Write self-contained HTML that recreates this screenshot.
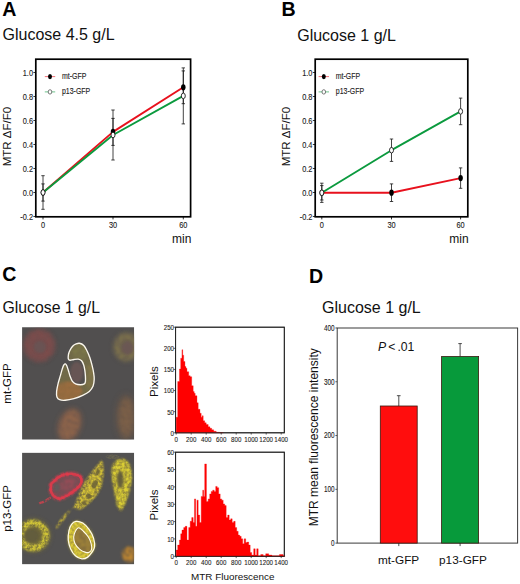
<!DOCTYPE html>
<html><head><meta charset="utf-8"><title>Figure</title>
<style>html,body{margin:0;padding:0;background:#fff}svg{display:block}</style></head><body>
<svg width="520" height="584" viewBox="0 0 520 584" font-family='"Liberation Sans", Arial, Helvetica, sans-serif'>
<rect width="520" height="584" fill="#fff"/>
<text transform="translate(2.30,16.40)" font-size="19.6" text-anchor="start" font-weight="bold" font-style="normal" fill="#000" >A</text>
<text transform="translate(2.50,40.00)" font-size="16.0" text-anchor="start" font-weight="normal" font-style="normal" fill="#111" >Glucose 4.5 g/L</text>
<text transform="translate(281.40,16.40)" font-size="19.6" text-anchor="start" font-weight="bold" font-style="normal" fill="#000" >B</text>
<text transform="translate(297.20,40.70)" font-size="16.0" text-anchor="start" font-weight="normal" font-style="normal" fill="#111" >Glucose 1 g/L</text>
<text transform="translate(2.20,280.80)" font-size="19.6" text-anchor="start" font-weight="bold" font-style="normal" fill="#000" >C</text>
<text transform="translate(2.50,312.60)" font-size="15.8" text-anchor="start" font-weight="normal" font-style="normal" fill="#111" >Glucose 1 g/L</text>
<text transform="translate(308.90,283.20)" font-size="19.6" text-anchor="start" font-weight="bold" font-style="normal" fill="#000" >D</text>
<text transform="translate(322.00,312.60)" font-size="16.0" text-anchor="start" font-weight="normal" font-style="normal" fill="#111" >Glucose 1 g/L</text>
<rect x="35.8" y="59.2" width="154.8" height="157.60000000000002" fill="#fff" stroke="#000" stroke-width="1.7"/>
<line x1="33.4" y1="216.50" x2="35.8" y2="216.50" stroke="#000" stroke-width="0.8"/>
<text transform="translate(33.00,219.60) scale(0.84,1)" font-size="8.8" text-anchor="end" font-weight="normal" font-style="normal" fill="#222"  stroke="#222" stroke-width="0.12">-0.2</text>
<line x1="33.4" y1="192.50" x2="35.8" y2="192.50" stroke="#000" stroke-width="0.8"/>
<text transform="translate(33.00,195.60) scale(0.84,1)" font-size="8.8" text-anchor="end" font-weight="normal" font-style="normal" fill="#222"  stroke="#222" stroke-width="0.12">0.0</text>
<line x1="33.4" y1="168.50" x2="35.8" y2="168.50" stroke="#000" stroke-width="0.8"/>
<text transform="translate(33.00,171.60) scale(0.84,1)" font-size="8.8" text-anchor="end" font-weight="normal" font-style="normal" fill="#222"  stroke="#222" stroke-width="0.12">0.2</text>
<line x1="33.4" y1="144.50" x2="35.8" y2="144.50" stroke="#000" stroke-width="0.8"/>
<text transform="translate(33.00,147.60) scale(0.84,1)" font-size="8.8" text-anchor="end" font-weight="normal" font-style="normal" fill="#222"  stroke="#222" stroke-width="0.12">0.4</text>
<line x1="33.4" y1="120.50" x2="35.8" y2="120.50" stroke="#000" stroke-width="0.8"/>
<text transform="translate(33.00,123.60) scale(0.84,1)" font-size="8.8" text-anchor="end" font-weight="normal" font-style="normal" fill="#222"  stroke="#222" stroke-width="0.12">0.6</text>
<line x1="33.4" y1="96.50" x2="35.8" y2="96.50" stroke="#000" stroke-width="0.8"/>
<text transform="translate(33.00,99.60) scale(0.84,1)" font-size="8.8" text-anchor="end" font-weight="normal" font-style="normal" fill="#222"  stroke="#222" stroke-width="0.12">0.8</text>
<line x1="33.4" y1="72.50" x2="35.8" y2="72.50" stroke="#000" stroke-width="0.8"/>
<text transform="translate(33.00,75.60) scale(0.84,1)" font-size="8.8" text-anchor="end" font-weight="normal" font-style="normal" fill="#222"  stroke="#222" stroke-width="0.12">1.0</text>
<line x1="43" y1="216.8" x2="43" y2="219.4" stroke="#000" stroke-width="0.8"/>
<text transform="translate(43.00,228.30) scale(0.84,1)" font-size="8.8" text-anchor="middle" font-weight="normal" font-style="normal" fill="#222"  stroke="#222" stroke-width="0.12">0</text>
<line x1="113" y1="216.8" x2="113" y2="219.4" stroke="#000" stroke-width="0.8"/>
<text transform="translate(113.00,228.30) scale(0.84,1)" font-size="8.8" text-anchor="middle" font-weight="normal" font-style="normal" fill="#222"  stroke="#222" stroke-width="0.12">30</text>
<line x1="183.3" y1="216.8" x2="183.3" y2="219.4" stroke="#000" stroke-width="0.8"/>
<text transform="translate(183.30,228.30) scale(0.84,1)" font-size="8.8" text-anchor="middle" font-weight="normal" font-style="normal" fill="#222"  stroke="#222" stroke-width="0.12">60</text>
<text transform="translate(10.80,136.60) rotate(-90)" font-size="11.5" text-anchor="middle" font-weight="normal" font-style="normal" fill="#111" >MTR ΔF/F0</text>
<text transform="translate(191.40,242.80)" font-size="12.0" text-anchor="end" font-weight="normal" font-style="normal" fill="#111" >min</text>
<polyline points="43,192.5 113,131.9 183.3,87.3" fill="none" stroke="#e8111d" stroke-width="1.9" stroke-linejoin="round"/>
<polyline points="43,192.5 113,135.0 183.3,95.9" fill="none" stroke="#0b9a3e" stroke-width="1.9" stroke-linejoin="round"/>
<path d="M43 183.9V201.1M41.3 183.9H44.7M41.3 201.1H44.7" stroke="#141414" stroke-width="0.8" fill="none"/>
<path d="M43 175.7V209.3M41.3 175.7H44.7M41.3 209.3H44.7" stroke="#141414" stroke-width="0.8" fill="none"/>
<path d="M113 118.4V145.4M111.3 118.4H114.7M111.3 145.4H114.7" stroke="#141414" stroke-width="0.8" fill="none"/>
<path d="M113 110.0V160.0M111.3 110.0H114.7M111.3 160.0H114.7" stroke="#141414" stroke-width="0.8" fill="none"/>
<path d="M183.3 70.9V103.7M181.60000000000002 70.9H185.0M181.60000000000002 103.7H185.0" stroke="#141414" stroke-width="0.8" fill="none"/>
<path d="M183.3 67.9V123.9M181.60000000000002 67.9H185.0M181.60000000000002 123.9H185.0" stroke="#141414" stroke-width="0.8" fill="none"/>
<ellipse cx="43" cy="192.5" rx="2.25" ry="3.1" fill="#000"/>
<ellipse cx="113" cy="131.9" rx="2.25" ry="3.1" fill="#000"/>
<ellipse cx="183.3" cy="87.3" rx="2.25" ry="3.1" fill="#000"/>
<ellipse cx="43" cy="192.5" rx="2.0" ry="2.8" fill="#fff" stroke="#111" stroke-width="0.85"/>
<ellipse cx="113" cy="135.0" rx="2.0" ry="2.8" fill="#fff" stroke="#111" stroke-width="0.85"/>
<ellipse cx="183.3" cy="95.9" rx="2.0" ry="2.8" fill="#fff" stroke="#111" stroke-width="0.85"/>
<line x1="44.8" y1="76.6" x2="55.2" y2="76.6" stroke="#e8111d" stroke-width="0.6"/>
<ellipse cx="50" cy="76.6" rx="2.0" ry="2.6" fill="#000"/>
<line x1="44.8" y1="91.9" x2="55.2" y2="91.9" stroke="#0b9a3e" stroke-width="0.6"/>
<ellipse cx="50" cy="91.9" rx="1.8" ry="2.2" fill="#fff" stroke="#444" stroke-width="0.7"/>
<text transform="translate(62.00,79.00) scale(0.85,1)" font-size="8.2" text-anchor="start" font-weight="normal" font-style="normal" fill="#222"  stroke="#222" stroke-width="0.12">mt-GFP</text>
<text transform="translate(62.00,94.30) scale(0.85,1)" font-size="8.2" text-anchor="start" font-weight="normal" font-style="normal" fill="#222"  stroke="#222" stroke-width="0.12">p13-GFP</text>
<rect x="315.2" y="59.2" width="152.60000000000002" height="157.60000000000002" fill="#fff" stroke="#000" stroke-width="1.7"/>
<line x1="312.8" y1="216.50" x2="315.2" y2="216.50" stroke="#000" stroke-width="0.8"/>
<text transform="translate(312.40,219.60) scale(0.84,1)" font-size="8.8" text-anchor="end" font-weight="normal" font-style="normal" fill="#222"  stroke="#222" stroke-width="0.12">-0.2</text>
<line x1="312.8" y1="192.50" x2="315.2" y2="192.50" stroke="#000" stroke-width="0.8"/>
<text transform="translate(312.40,195.60) scale(0.84,1)" font-size="8.8" text-anchor="end" font-weight="normal" font-style="normal" fill="#222"  stroke="#222" stroke-width="0.12">0.0</text>
<line x1="312.8" y1="168.50" x2="315.2" y2="168.50" stroke="#000" stroke-width="0.8"/>
<text transform="translate(312.40,171.60) scale(0.84,1)" font-size="8.8" text-anchor="end" font-weight="normal" font-style="normal" fill="#222"  stroke="#222" stroke-width="0.12">0.2</text>
<line x1="312.8" y1="144.50" x2="315.2" y2="144.50" stroke="#000" stroke-width="0.8"/>
<text transform="translate(312.40,147.60) scale(0.84,1)" font-size="8.8" text-anchor="end" font-weight="normal" font-style="normal" fill="#222"  stroke="#222" stroke-width="0.12">0.4</text>
<line x1="312.8" y1="120.50" x2="315.2" y2="120.50" stroke="#000" stroke-width="0.8"/>
<text transform="translate(312.40,123.60) scale(0.84,1)" font-size="8.8" text-anchor="end" font-weight="normal" font-style="normal" fill="#222"  stroke="#222" stroke-width="0.12">0.6</text>
<line x1="312.8" y1="96.50" x2="315.2" y2="96.50" stroke="#000" stroke-width="0.8"/>
<text transform="translate(312.40,99.60) scale(0.84,1)" font-size="8.8" text-anchor="end" font-weight="normal" font-style="normal" fill="#222"  stroke="#222" stroke-width="0.12">0.8</text>
<line x1="312.8" y1="72.50" x2="315.2" y2="72.50" stroke="#000" stroke-width="0.8"/>
<text transform="translate(312.40,75.60) scale(0.84,1)" font-size="8.8" text-anchor="end" font-weight="normal" font-style="normal" fill="#222"  stroke="#222" stroke-width="0.12">1.0</text>
<line x1="321.8" y1="216.8" x2="321.8" y2="219.4" stroke="#000" stroke-width="0.8"/>
<text transform="translate(321.80,228.30) scale(0.84,1)" font-size="8.8" text-anchor="middle" font-weight="normal" font-style="normal" fill="#222"  stroke="#222" stroke-width="0.12">0</text>
<line x1="391.5" y1="216.8" x2="391.5" y2="219.4" stroke="#000" stroke-width="0.8"/>
<text transform="translate(391.50,228.30) scale(0.84,1)" font-size="8.8" text-anchor="middle" font-weight="normal" font-style="normal" fill="#222"  stroke="#222" stroke-width="0.12">30</text>
<line x1="460.6" y1="216.8" x2="460.6" y2="219.4" stroke="#000" stroke-width="0.8"/>
<text transform="translate(460.60,228.30) scale(0.84,1)" font-size="8.8" text-anchor="middle" font-weight="normal" font-style="normal" fill="#222"  stroke="#222" stroke-width="0.12">60</text>
<text transform="translate(290.30,136.60) rotate(-90)" font-size="11.5" text-anchor="middle" font-weight="normal" font-style="normal" fill="#111" >MTR ΔF/F0</text>
<text transform="translate(468.60,242.80)" font-size="12.0" text-anchor="end" font-weight="normal" font-style="normal" fill="#111" >min</text>
<polyline points="321.8,192.8 391.5,192.7 460.6,178.1" fill="none" stroke="#e8111d" stroke-width="1.9" stroke-linejoin="round"/>
<polyline points="321.8,192.8 391.5,150.2 460.6,111.4" fill="none" stroke="#0b9a3e" stroke-width="1.9" stroke-linejoin="round"/>
<path d="M321.8 185.6V200.0M320.1 185.6H323.5M320.1 200.0H323.5" stroke="#141414" stroke-width="0.8" fill="none"/>
<path d="M321.8 183.2V202.4M320.1 183.2H323.5M320.1 202.4H323.5" stroke="#141414" stroke-width="0.8" fill="none"/>
<path d="M391.5 183.9V201.5M389.8 183.9H393.2M389.8 201.5H393.2" stroke="#141414" stroke-width="0.8" fill="none"/>
<path d="M391.5 139.0V161.4M389.8 139.0H393.2M389.8 161.4H393.2" stroke="#141414" stroke-width="0.8" fill="none"/>
<path d="M460.6 167.9V188.3M458.90000000000003 167.9H462.3M458.90000000000003 188.3H462.3" stroke="#141414" stroke-width="0.8" fill="none"/>
<path d="M460.6 98.1V124.7M458.90000000000003 98.1H462.3M458.90000000000003 124.7H462.3" stroke="#141414" stroke-width="0.8" fill="none"/>
<ellipse cx="321.8" cy="192.8" rx="2.25" ry="3.1" fill="#000"/>
<ellipse cx="391.5" cy="192.7" rx="2.25" ry="3.1" fill="#000"/>
<ellipse cx="460.6" cy="178.1" rx="2.25" ry="3.1" fill="#000"/>
<ellipse cx="321.8" cy="192.8" rx="2.0" ry="2.8" fill="#fff" stroke="#111" stroke-width="0.85"/>
<ellipse cx="391.5" cy="150.2" rx="2.0" ry="2.8" fill="#fff" stroke="#111" stroke-width="0.85"/>
<ellipse cx="460.6" cy="111.4" rx="2.0" ry="2.8" fill="#fff" stroke="#111" stroke-width="0.85"/>
<line x1="318.6" y1="76.6" x2="329.0" y2="76.6" stroke="#e8111d" stroke-width="0.6"/>
<ellipse cx="323.8" cy="76.6" rx="2.0" ry="2.6" fill="#000"/>
<line x1="318.6" y1="91.9" x2="329.0" y2="91.9" stroke="#0b9a3e" stroke-width="0.6"/>
<ellipse cx="323.8" cy="91.9" rx="1.8" ry="2.2" fill="#fff" stroke="#444" stroke-width="0.7"/>
<text transform="translate(335.80,79.00) scale(0.85,1)" font-size="8.2" text-anchor="start" font-weight="normal" font-style="normal" fill="#222"  stroke="#222" stroke-width="0.12">mt-GFP</text>
<text transform="translate(335.80,94.30) scale(0.85,1)" font-size="8.2" text-anchor="start" font-weight="normal" font-style="normal" fill="#222"  stroke="#222" stroke-width="0.12">p13-GFP</text>
<rect x="175.6" y="327.2" width="108.70000000000002" height="105.60000000000002" fill="#fff" stroke="#222" stroke-width="0.9"/>
<path d="M176.20 432.80V417.29H177.70V381.50H179.45V368.99H180.70V358.23H181.95V349.72H182.70V355.23H183.70V361.48H184.95V366.49H185.95V368.24H186.95V371.74H188.70V375.75H190.20V376.75H191.70V385.76H193.20V391.51H194.20V393.26H195.20V395.76H196.95V402.77H198.20V409.28H199.95V413.28H201.20V417.29H202.20V415.78H203.20V420.79H204.70V422.79H206.20V424.54H208.20V426.79H209.95V428.30H211.70V429.80H213.70V431.30H216.20V432.30H219.70V432.62H223.20V432.80Z" fill="#ff0000" stroke="#f00000" stroke-width="0.3"/>
<rect x="175.6" y="327.2" width="108.70000000000002" height="105.60000000000002" fill="none" stroke="#222" stroke-width="0.9"/>
<line x1="173.6" y1="432.80" x2="175.6" y2="432.80" stroke="#222" stroke-width="0.7"/>
<text transform="translate(174.00,435.70) scale(0.76,1)" font-size="8.1" text-anchor="end" font-weight="normal" font-style="normal" fill="#222"  stroke="#222" stroke-width="0.12">0</text>
<line x1="173.6" y1="411.68" x2="175.6" y2="411.68" stroke="#222" stroke-width="0.7"/>
<text transform="translate(174.00,414.58) scale(0.76,1)" font-size="8.1" text-anchor="end" font-weight="normal" font-style="normal" fill="#222"  stroke="#222" stroke-width="0.12">50</text>
<line x1="173.6" y1="390.56" x2="175.6" y2="390.56" stroke="#222" stroke-width="0.7"/>
<text transform="translate(174.00,393.46) scale(0.76,1)" font-size="8.1" text-anchor="end" font-weight="normal" font-style="normal" fill="#222"  stroke="#222" stroke-width="0.12">100</text>
<line x1="173.6" y1="369.44" x2="175.6" y2="369.44" stroke="#222" stroke-width="0.7"/>
<text transform="translate(174.00,372.34) scale(0.76,1)" font-size="8.1" text-anchor="end" font-weight="normal" font-style="normal" fill="#222"  stroke="#222" stroke-width="0.12">150</text>
<line x1="173.6" y1="348.32" x2="175.6" y2="348.32" stroke="#222" stroke-width="0.7"/>
<text transform="translate(174.00,351.22) scale(0.76,1)" font-size="8.1" text-anchor="end" font-weight="normal" font-style="normal" fill="#222"  stroke="#222" stroke-width="0.12">200</text>
<line x1="173.6" y1="327.20" x2="175.6" y2="327.20" stroke="#222" stroke-width="0.7"/>
<text transform="translate(174.00,330.10) scale(0.76,1)" font-size="8.1" text-anchor="end" font-weight="normal" font-style="normal" fill="#222"  stroke="#222" stroke-width="0.12">250</text>
<line x1="176.20" y1="432.8" x2="176.20" y2="434.6" stroke="#222" stroke-width="0.7"/>
<text transform="translate(176.20,441.70) scale(0.76,1)" font-size="8.1" text-anchor="middle" font-weight="normal" font-style="normal" fill="#222"  stroke="#222" stroke-width="0.12">0</text>
<line x1="191.20" y1="432.8" x2="191.20" y2="434.6" stroke="#222" stroke-width="0.7"/>
<text transform="translate(191.20,441.70) scale(0.76,1)" font-size="8.1" text-anchor="middle" font-weight="normal" font-style="normal" fill="#222"  stroke="#222" stroke-width="0.12">200</text>
<line x1="206.20" y1="432.8" x2="206.20" y2="434.6" stroke="#222" stroke-width="0.7"/>
<text transform="translate(206.20,441.70) scale(0.76,1)" font-size="8.1" text-anchor="middle" font-weight="normal" font-style="normal" fill="#222"  stroke="#222" stroke-width="0.12">400</text>
<line x1="221.20" y1="432.8" x2="221.20" y2="434.6" stroke="#222" stroke-width="0.7"/>
<text transform="translate(221.20,441.70) scale(0.76,1)" font-size="8.1" text-anchor="middle" font-weight="normal" font-style="normal" fill="#222"  stroke="#222" stroke-width="0.12">600</text>
<line x1="236.20" y1="432.8" x2="236.20" y2="434.6" stroke="#222" stroke-width="0.7"/>
<text transform="translate(236.20,441.70) scale(0.76,1)" font-size="8.1" text-anchor="middle" font-weight="normal" font-style="normal" fill="#222"  stroke="#222" stroke-width="0.12">800</text>
<line x1="251.20" y1="432.8" x2="251.20" y2="434.6" stroke="#222" stroke-width="0.7"/>
<text transform="translate(251.20,441.70) scale(0.76,1)" font-size="8.1" text-anchor="middle" font-weight="normal" font-style="normal" fill="#222"  stroke="#222" stroke-width="0.12">1000</text>
<line x1="266.20" y1="432.8" x2="266.20" y2="434.6" stroke="#222" stroke-width="0.7"/>
<text transform="translate(266.20,441.70) scale(0.76,1)" font-size="8.1" text-anchor="middle" font-weight="normal" font-style="normal" fill="#222"  stroke="#222" stroke-width="0.12">1200</text>
<line x1="281.20" y1="432.8" x2="281.20" y2="434.6" stroke="#222" stroke-width="0.7"/>
<text transform="translate(281.20,441.70) scale(0.76,1)" font-size="8.1" text-anchor="middle" font-weight="normal" font-style="normal" fill="#222"  stroke="#222" stroke-width="0.12">1400</text>
<rect x="175.6" y="452.2" width="108.70000000000002" height="104.09999999999997" fill="#fff" stroke="#222" stroke-width="0.9"/>
<path d="M176.20 556.30V550.06H177.70V545.07H179.45V540.07H180.70V533.83H181.95V530.09H183.70V527.59H185.20V526.34H186.95V540.07H188.70V527.59H190.20V521.35H191.70V517.61H193.20V522.60H194.45V498.88H195.70V526.34H196.95V500.13H198.20V515.11H199.70V522.60H201.20V496.39H202.70V490.15H203.70V496.39H204.70V463.93H206.45V501.38H208.20V498.88H209.70V493.89H211.20V491.39H212.70V490.15H214.20V491.39H215.70V486.40H217.20V487.65H218.70V493.89H220.20V498.88H221.70V500.13H223.20V503.88H224.70V505.62H226.20V517.61H227.70V515.11H229.20V520.10H230.70V518.85H232.20V522.60H233.70V521.35H235.20V527.59H236.70V531.34H238.20V535.08H239.70V536.33H241.20V538.83H242.70V543.82H244.20V538.83H245.70V542.57H247.20V542.07H248.70V545.07H250.20V552.56H251.70V555.05H253.70V548.81H255.20V555.05H256.70V548.81H258.20V555.80H260.70V554.55H263.20V555.80H265.70V553.80H268.70V555.05H271.95V555.80H279.45V554.55H283.20V555.80H284.95V556.30Z" fill="#ff0000" stroke="#f00000" stroke-width="0.3"/>
<rect x="175.6" y="452.2" width="108.70000000000002" height="104.09999999999997" fill="none" stroke="#222" stroke-width="0.9"/>
<line x1="173.6" y1="556.30" x2="175.6" y2="556.30" stroke="#222" stroke-width="0.7"/>
<text transform="translate(174.00,559.20) scale(0.76,1)" font-size="8.1" text-anchor="end" font-weight="normal" font-style="normal" fill="#222"  stroke="#222" stroke-width="0.12">0</text>
<line x1="173.6" y1="538.95" x2="175.6" y2="538.95" stroke="#222" stroke-width="0.7"/>
<text transform="translate(174.00,541.85) scale(0.76,1)" font-size="8.1" text-anchor="end" font-weight="normal" font-style="normal" fill="#222"  stroke="#222" stroke-width="0.12">10</text>
<line x1="173.6" y1="521.60" x2="175.6" y2="521.60" stroke="#222" stroke-width="0.7"/>
<text transform="translate(174.00,524.50) scale(0.76,1)" font-size="8.1" text-anchor="end" font-weight="normal" font-style="normal" fill="#222"  stroke="#222" stroke-width="0.12">20</text>
<line x1="173.6" y1="504.25" x2="175.6" y2="504.25" stroke="#222" stroke-width="0.7"/>
<text transform="translate(174.00,507.15) scale(0.76,1)" font-size="8.1" text-anchor="end" font-weight="normal" font-style="normal" fill="#222"  stroke="#222" stroke-width="0.12">30</text>
<line x1="173.6" y1="486.90" x2="175.6" y2="486.90" stroke="#222" stroke-width="0.7"/>
<text transform="translate(174.00,489.80) scale(0.76,1)" font-size="8.1" text-anchor="end" font-weight="normal" font-style="normal" fill="#222"  stroke="#222" stroke-width="0.12">40</text>
<line x1="173.6" y1="469.55" x2="175.6" y2="469.55" stroke="#222" stroke-width="0.7"/>
<text transform="translate(174.00,472.45) scale(0.76,1)" font-size="8.1" text-anchor="end" font-weight="normal" font-style="normal" fill="#222"  stroke="#222" stroke-width="0.12">50</text>
<line x1="173.6" y1="452.20" x2="175.6" y2="452.20" stroke="#222" stroke-width="0.7"/>
<text transform="translate(174.00,455.10) scale(0.76,1)" font-size="8.1" text-anchor="end" font-weight="normal" font-style="normal" fill="#222"  stroke="#222" stroke-width="0.12">60</text>
<line x1="176.20" y1="556.3" x2="176.20" y2="558.0999999999999" stroke="#222" stroke-width="0.7"/>
<text transform="translate(176.20,565.20) scale(0.76,1)" font-size="8.1" text-anchor="middle" font-weight="normal" font-style="normal" fill="#222"  stroke="#222" stroke-width="0.12">0</text>
<line x1="191.20" y1="556.3" x2="191.20" y2="558.0999999999999" stroke="#222" stroke-width="0.7"/>
<text transform="translate(191.20,565.20) scale(0.76,1)" font-size="8.1" text-anchor="middle" font-weight="normal" font-style="normal" fill="#222"  stroke="#222" stroke-width="0.12">200</text>
<line x1="206.20" y1="556.3" x2="206.20" y2="558.0999999999999" stroke="#222" stroke-width="0.7"/>
<text transform="translate(206.20,565.20) scale(0.76,1)" font-size="8.1" text-anchor="middle" font-weight="normal" font-style="normal" fill="#222"  stroke="#222" stroke-width="0.12">400</text>
<line x1="221.20" y1="556.3" x2="221.20" y2="558.0999999999999" stroke="#222" stroke-width="0.7"/>
<text transform="translate(221.20,565.20) scale(0.76,1)" font-size="8.1" text-anchor="middle" font-weight="normal" font-style="normal" fill="#222"  stroke="#222" stroke-width="0.12">600</text>
<line x1="236.20" y1="556.3" x2="236.20" y2="558.0999999999999" stroke="#222" stroke-width="0.7"/>
<text transform="translate(236.20,565.20) scale(0.76,1)" font-size="8.1" text-anchor="middle" font-weight="normal" font-style="normal" fill="#222"  stroke="#222" stroke-width="0.12">800</text>
<line x1="251.20" y1="556.3" x2="251.20" y2="558.0999999999999" stroke="#222" stroke-width="0.7"/>
<text transform="translate(251.20,565.20) scale(0.76,1)" font-size="8.1" text-anchor="middle" font-weight="normal" font-style="normal" fill="#222"  stroke="#222" stroke-width="0.12">1000</text>
<line x1="266.20" y1="556.3" x2="266.20" y2="558.0999999999999" stroke="#222" stroke-width="0.7"/>
<text transform="translate(266.20,565.20) scale(0.76,1)" font-size="8.1" text-anchor="middle" font-weight="normal" font-style="normal" fill="#222"  stroke="#222" stroke-width="0.12">1200</text>
<line x1="281.20" y1="556.3" x2="281.20" y2="558.0999999999999" stroke="#222" stroke-width="0.7"/>
<text transform="translate(281.20,565.20) scale(0.76,1)" font-size="8.1" text-anchor="middle" font-weight="normal" font-style="normal" fill="#222"  stroke="#222" stroke-width="0.12">1400</text>
<text transform="translate(232.75,579.80)" font-size="9.9" text-anchor="middle" font-weight="normal" font-style="normal" fill="#111" >MTR Fluorescence</text>
<text transform="translate(158.10,381.60) rotate(-90)" font-size="11.6" text-anchor="middle" font-weight="normal" font-style="normal" fill="#111" >Pixels</text>
<text transform="translate(158.10,505.00) rotate(-90)" font-size="11.6" text-anchor="middle" font-weight="normal" font-style="normal" fill="#111" >Pixels</text>
<text transform="translate(10.70,383.50) rotate(-90)" font-size="11.5" text-anchor="middle" font-weight="normal" font-style="normal" fill="#111" >mt-GFP</text>
<text transform="translate(10.70,508.50) rotate(-90)" font-size="11.5" text-anchor="middle" font-weight="normal" font-style="normal" fill="#111" >p13-GFP</text>
<defs>
<filter id="gr" x="-25%" y="-25%" width="150%" height="150%" color-interpolation-filters="sRGB">
<feTurbulence type="fractalNoise" baseFrequency="0.36" numOctaves="3" seed="3" result="n"/>
<feColorMatrix in="n" type="matrix" values="0 0 0 0 0  0 0 0 0 0  0 0 0 0 0  2.6 0 0 0 -0.72" result="a"/>
<feGaussianBlur in="SourceGraphic" stdDeviation="0.8" result="b"/>
<feComposite in="b" in2="a" operator="in" result="c"/>
<feGaussianBlur in="c" stdDeviation="0.55"/>
</filter>
<filter id="grs" x="-25%" y="-25%" width="150%" height="150%" color-interpolation-filters="sRGB">
<feTurbulence type="fractalNoise" baseFrequency="0.5" numOctaves="2" seed="8" result="n"/>
<feColorMatrix in="n" type="matrix" values="0 0 0 0 0  0 0 0 0 0  0 0 0 0 0  3.0 0 0 0 -0.8" result="a"/>
<feGaussianBlur in="SourceGraphic" stdDeviation="0.5" result="b"/>
<feComposite in="b" in2="a" operator="in" result="c"/>
<feGaussianBlur in="c" stdDeviation="0.4"/>
</filter>
<filter id="gr2" x="-25%" y="-25%" width="150%" height="150%" color-interpolation-filters="sRGB">
<feTurbulence type="fractalNoise" baseFrequency="0.3" numOctaves="2" seed="11" result="n"/>
<feColorMatrix in="n" type="matrix" values="0 0 0 0 0  0 0 0 0 0  0 0 0 0 0  2.4 0 0 0 -0.62" result="a"/>
<feGaussianBlur in="SourceGraphic" stdDeviation="1.5" result="b"/>
<feComposite in="b" in2="a" operator="in" result="c"/>
<feGaussianBlur in="c" stdDeviation="0.8"/>
</filter>
<filter id="gr3" x="-25%" y="-25%" width="150%" height="150%" color-interpolation-filters="sRGB">
<feTurbulence type="fractalNoise" baseFrequency="0.25" numOctaves="2" seed="5" result="n"/>
<feColorMatrix in="n" type="matrix" values="0 0 0 0 0  0 0 0 0 0  0 0 0 0 0  2.2 0 0 0 -0.5" result="a"/>
<feGaussianBlur in="SourceGraphic" stdDeviation="2.2" result="b"/>
<feComposite in="b" in2="a" operator="in" result="c"/>
<feGaussianBlur in="c" stdDeviation="1.0"/>
</filter>
<filter id="b05" x="-30%" y="-30%" width="160%" height="160%"><feGaussianBlur stdDeviation="0.6"/></filter>
<filter id="b1" x="-30%" y="-30%" width="160%" height="160%"><feGaussianBlur stdDeviation="1.2"/></filter>
<filter id="b2" x="-30%" y="-30%" width="160%" height="160%"><feGaussianBlur stdDeviation="2.4"/></filter>
<filter id="b3" x="-40%" y="-40%" width="180%" height="180%"><feGaussianBlur stdDeviation="3.6"/></filter>
<clipPath id="c1"><rect x="22.1" y="327.3" width="112" height="112.3"/></clipPath>
<clipPath id="c2"><rect x="22.1" y="452.8" width="112" height="111.4"/></clipPath>
<clipPath id="cell1"><path d="M75.56 344.16C76.57 343.80 78.03 343.07 79.40 343.29C80.77 343.51 82.50 344.20 83.78 345.48C85.06 346.76 86.06 348.95 87.07 350.96C88.07 352.97 88.99 355.16 89.81 357.53C90.63 359.91 91.36 362.65 92.00 365.21C92.64 367.76 93.28 370.50 93.64 372.88C94.01 375.25 94.28 377.26 94.19 379.45C94.10 381.64 93.92 384.02 93.10 386.03C92.27 388.04 91.00 389.95 89.26 391.51C87.53 393.06 85.24 394.16 82.68 395.34C80.13 396.53 76.84 397.81 73.92 398.63C71.00 399.45 67.53 400.09 65.15 400.27C62.78 400.46 61.04 400.27 59.67 399.73C58.30 399.18 57.44 398.36 56.93 396.99C56.42 395.62 56.42 393.70 56.60 391.51C56.79 389.32 57.42 386.39 58.03 383.84C58.63 381.28 59.49 378.72 60.22 376.16C60.95 373.61 61.77 370.41 62.41 368.49C63.05 366.58 63.56 365.42 64.05 364.66C64.55 363.89 64.91 363.71 65.37 363.89C65.83 364.07 66.28 364.62 66.79 365.75C67.31 366.89 67.89 368.95 68.44 370.68C68.99 372.42 69.44 374.43 70.08 376.16C70.72 377.90 71.36 379.82 72.27 381.10C73.19 382.37 74.19 383.23 75.56 383.84C76.93 384.44 79.03 384.71 80.49 384.71C81.95 384.71 83.51 384.35 84.33 383.84C85.15 383.32 85.24 382.92 85.42 381.64C85.61 380.37 85.52 377.99 85.42 376.16C85.33 374.34 85.15 372.51 84.88 370.68C84.60 368.86 84.33 366.85 83.78 365.21C83.23 363.56 82.50 361.83 81.59 360.82C80.68 359.82 79.58 359.40 78.30 359.18C77.02 358.96 75.29 359.32 73.92 359.51C72.55 359.69 71.00 360.33 70.08 360.27C69.17 360.22 68.75 359.82 68.44 359.18C68.13 358.54 68.13 357.53 68.22 356.44C68.31 355.34 68.49 353.97 68.99 352.60C69.48 351.23 70.45 349.41 71.18 348.22C71.91 347.03 72.64 346.16 73.37 345.48C74.10 344.80 74.56 344.53 75.56 344.16Z"/></clipPath>
</defs>
<g clip-path="url(#c1)">
<rect x="21.8" y="327" width="112.6" height="113" fill="#514f4f"/>
<ellipse cx="39.3" cy="345.5" rx="15.5" ry="16" fill="#764d4d" filter="url(#b2)" opacity="0.95"/>
<ellipse cx="39.3" cy="345.5" rx="12" ry="12.5" fill="none" stroke="#874c4a" stroke-width="6" filter="url(#gr3)" opacity="0.6"/>
<ellipse cx="39.8" cy="347.0" rx="6" ry="6" fill="#675555" filter="url(#b1)" opacity="0.8"/>
<ellipse cx="126.5" cy="347.0" rx="13" ry="14.5" fill="#6e6450" filter="url(#b2)" opacity="0.95"/>
<ellipse cx="126.5" cy="347.0" rx="10" ry="11" fill="none" stroke="#887c4a" stroke-width="5" filter="url(#gr2)" opacity="0.75"/>
<ellipse cx="127.5" cy="348.0" rx="5.5" ry="6.5" fill="#6b5654" filter="url(#b1)" opacity="0.85"/>
<ellipse cx="126.2" cy="417.5" rx="9" ry="22" fill="#725a46" filter="url(#b3)" opacity="0.95"/>
<ellipse cx="126.2" cy="417.5" rx="7" ry="19" fill="#86664a" filter="url(#gr3)" opacity="0.65"/>
<ellipse cx="69.6" cy="425.0" rx="11.5" ry="17.5" transform="rotate(20 69.6 425.0)" fill="#7c5c4c" filter="url(#b2)" opacity="0.95"/>
<ellipse cx="69.6" cy="425.0" rx="9" ry="15" transform="rotate(20 69.6 425.0)" fill="#96684a" filter="url(#gr2)" opacity="0.8"/>
<g clip-path="url(#cell1)">
<path d="M75.56 344.16C76.57 343.80 78.03 343.07 79.40 343.29C80.77 343.51 82.50 344.20 83.78 345.48C85.06 346.76 86.06 348.95 87.07 350.96C88.07 352.97 88.99 355.16 89.81 357.53C90.63 359.91 91.36 362.65 92.00 365.21C92.64 367.76 93.28 370.50 93.64 372.88C94.01 375.25 94.28 377.26 94.19 379.45C94.10 381.64 93.92 384.02 93.10 386.03C92.27 388.04 91.00 389.95 89.26 391.51C87.53 393.06 85.24 394.16 82.68 395.34C80.13 396.53 76.84 397.81 73.92 398.63C71.00 399.45 67.53 400.09 65.15 400.27C62.78 400.46 61.04 400.27 59.67 399.73C58.30 399.18 57.44 398.36 56.93 396.99C56.42 395.62 56.42 393.70 56.60 391.51C56.79 389.32 57.42 386.39 58.03 383.84C58.63 381.28 59.49 378.72 60.22 376.16C60.95 373.61 61.77 370.41 62.41 368.49C63.05 366.58 63.56 365.42 64.05 364.66C64.55 363.89 64.91 363.71 65.37 363.89C65.83 364.07 66.28 364.62 66.79 365.75C67.31 366.89 67.89 368.95 68.44 370.68C68.99 372.42 69.44 374.43 70.08 376.16C70.72 377.90 71.36 379.82 72.27 381.10C73.19 382.37 74.19 383.23 75.56 383.84C76.93 384.44 79.03 384.71 80.49 384.71C81.95 384.71 83.51 384.35 84.33 383.84C85.15 383.32 85.24 382.92 85.42 381.64C85.61 380.37 85.52 377.99 85.42 376.16C85.33 374.34 85.15 372.51 84.88 370.68C84.60 368.86 84.33 366.85 83.78 365.21C83.23 363.56 82.50 361.83 81.59 360.82C80.68 359.82 79.58 359.40 78.30 359.18C77.02 358.96 75.29 359.32 73.92 359.51C72.55 359.69 71.00 360.33 70.08 360.27C69.17 360.22 68.75 359.82 68.44 359.18C68.13 358.54 68.13 357.53 68.22 356.44C68.31 355.34 68.49 353.97 68.99 352.60C69.48 351.23 70.45 349.41 71.18 348.22C71.91 347.03 72.64 346.16 73.37 345.48C74.10 344.80 74.56 344.53 75.56 344.16Z" fill="#716a48"/>
<ellipse cx="68.4" cy="391.5" rx="13" ry="10" fill="#8e6a40" filter="url(#b1)" opacity="0.95"/>
<ellipse cx="68.4" cy="391.5" rx="14" ry="10" fill="#a06e40" filter="url(#gr2)" opacity="0.85"/>
<ellipse cx="80.5" cy="351.5" rx="9" ry="7" fill="#7c7848" filter="url(#gr2)"/>
<ellipse cx="89.8" cy="376.2" rx="3.5" ry="13" fill="#8a7a48" filter="url(#gr2)"/>
</g>
<ellipse cx="76.7" cy="372.3" rx="6.5" ry="10.5" fill="#6a5655" filter="url(#b1)" opacity="0.9"/>
<path d="M75.56 344.16C76.57 343.80 78.03 343.07 79.40 343.29C80.77 343.51 82.50 344.20 83.78 345.48C85.06 346.76 86.06 348.95 87.07 350.96C88.07 352.97 88.99 355.16 89.81 357.53C90.63 359.91 91.36 362.65 92.00 365.21C92.64 367.76 93.28 370.50 93.64 372.88C94.01 375.25 94.28 377.26 94.19 379.45C94.10 381.64 93.92 384.02 93.10 386.03C92.27 388.04 91.00 389.95 89.26 391.51C87.53 393.06 85.24 394.16 82.68 395.34C80.13 396.53 76.84 397.81 73.92 398.63C71.00 399.45 67.53 400.09 65.15 400.27C62.78 400.46 61.04 400.27 59.67 399.73C58.30 399.18 57.44 398.36 56.93 396.99C56.42 395.62 56.42 393.70 56.60 391.51C56.79 389.32 57.42 386.39 58.03 383.84C58.63 381.28 59.49 378.72 60.22 376.16C60.95 373.61 61.77 370.41 62.41 368.49C63.05 366.58 63.56 365.42 64.05 364.66C64.55 363.89 64.91 363.71 65.37 363.89C65.83 364.07 66.28 364.62 66.79 365.75C67.31 366.89 67.89 368.95 68.44 370.68C68.99 372.42 69.44 374.43 70.08 376.16C70.72 377.90 71.36 379.82 72.27 381.10C73.19 382.37 74.19 383.23 75.56 383.84C76.93 384.44 79.03 384.71 80.49 384.71C81.95 384.71 83.51 384.35 84.33 383.84C85.15 383.32 85.24 382.92 85.42 381.64C85.61 380.37 85.52 377.99 85.42 376.16C85.33 374.34 85.15 372.51 84.88 370.68C84.60 368.86 84.33 366.85 83.78 365.21C83.23 363.56 82.50 361.83 81.59 360.82C80.68 359.82 79.58 359.40 78.30 359.18C77.02 358.96 75.29 359.32 73.92 359.51C72.55 359.69 71.00 360.33 70.08 360.27C69.17 360.22 68.75 359.82 68.44 359.18C68.13 358.54 68.13 357.53 68.22 356.44C68.31 355.34 68.49 353.97 68.99 352.60C69.48 351.23 70.45 349.41 71.18 348.22C71.91 347.03 72.64 346.16 73.37 345.48C74.10 344.80 74.56 344.53 75.56 344.16Z" fill="none" stroke="#fbf7ee" stroke-width="1.35" stroke-linejoin="round"/>
</g>
<g clip-path="url(#c2)">
<rect x="21.8" y="452.4" width="112.6" height="112.2" fill="#525151"/>
<path d="M50.10 482.31C51.75 480.30 55.62 476.38 58.75 474.62C61.88 472.85 65.56 471.97 68.85 471.73C72.13 471.49 76.06 472.05 78.46 473.17C80.87 474.29 82.60 476.54 83.27 478.46C83.94 480.38 83.59 482.60 82.50 484.71C81.41 486.83 79.01 489.12 76.73 491.15C74.46 493.19 71.68 495.32 68.85 496.92C66.01 498.53 62.36 500.56 59.71 500.77C57.07 500.98 54.74 499.57 52.98 498.17C51.22 496.78 49.82 494.33 49.13 492.40C48.45 490.48 48.69 488.32 48.85 486.63C49.01 484.95 48.45 484.31 50.10 482.31Z" fill="#7c5056" filter="url(#b1)" opacity="0.8"/>
<path d="M52.02 483.27C53.51 481.54 56.91 478.11 59.71 476.54C62.52 474.97 65.85 474.09 68.85 473.85C71.84 473.61 75.61 474.20 77.69 475.10C79.78 475.99 80.87 477.74 81.35 479.23C81.83 480.72 81.57 482.28 80.58 484.04C79.58 485.80 77.47 487.98 75.38 489.81C73.30 491.63 70.69 493.53 68.08 495.00C65.46 496.47 62.02 498.40 59.71 498.65C57.40 498.91 55.67 497.69 54.23 496.54C52.79 495.38 51.63 493.33 51.06 491.73C50.48 490.13 50.61 488.33 50.77 486.92C50.93 485.51 50.53 485.00 52.02 483.27Z" fill="none" stroke="#e43448" stroke-width="3.6" filter="url(#gr)"/>
<path d="M52.02 483.27C53.51 481.54 56.91 478.11 59.71 476.54C62.52 474.97 65.85 474.09 68.85 473.85C71.84 473.61 75.61 474.20 77.69 475.10C79.78 475.99 80.87 477.74 81.35 479.23C81.83 480.72 81.57 482.28 80.58 484.04C79.58 485.80 77.47 487.98 75.38 489.81C73.30 491.63 70.69 493.53 68.08 495.00C65.46 496.47 62.02 498.40 59.71 498.65C57.40 498.91 55.67 497.69 54.23 496.54C52.79 495.38 51.63 493.33 51.06 491.73C50.48 490.13 50.61 488.33 50.77 486.92C50.93 485.51 50.53 485.00 52.02 483.27Z" fill="none" stroke="#e03a4c" stroke-width="2.5" filter="url(#b05)" opacity="0.85"/>
<ellipse cx="67.9" cy="484.2" rx="9" ry="5.5" transform="rotate(-28 67.9 484.2)" fill="#b04a58" filter="url(#gr2)" opacity="0.7"/>
<ellipse cx="56.8" cy="487.6" rx="3" ry="4" fill="#5e5c5c" filter="url(#b1)" opacity="0.9"/>
<path d="M50.58 497.21C49.94 497.69 48.01 499.29 46.73 500.10C45.45 500.90 44.17 501.43 42.88 502.02C41.60 502.61 39.68 503.38 39.04 503.65" stroke="#b8444e" stroke-width="2.6" fill="none" filter="url(#grs)"/>
<path d="M102.12 461.05C102.84 462.41 103.34 468.23 103.41 471.38C103.48 474.54 103.05 477.13 102.55 480.00C102.05 482.87 101.55 485.92 100.40 488.61C99.25 491.31 97.60 493.71 95.66 496.15C93.72 498.59 91.28 501.07 88.77 503.26C86.25 505.45 83.28 508.43 80.58 509.29C77.89 510.15 75.20 507.03 72.61 508.43C70.03 509.83 67.59 514.53 65.08 517.69C62.56 520.85 58.97 525.91 57.54 527.38C56.10 528.86 55.38 528.50 56.46 526.52C57.54 524.55 61.20 518.70 64.00 515.54C66.80 512.38 71.07 510.33 73.26 507.57C75.45 504.80 75.77 502.04 77.14 498.95C78.50 495.87 79.94 492.20 81.44 489.05C82.95 485.89 84.32 483.01 86.18 480.00C88.05 476.98 90.49 473.75 92.64 470.95C94.80 468.15 97.53 464.85 99.11 463.20C100.68 461.55 101.40 459.68 102.12 461.05Z" fill="#7c7040" filter="url(#b1)" opacity="0.95"/>
<path d="M102.12 461.05C102.84 462.41 103.34 468.23 103.41 471.38C103.48 474.54 103.05 477.13 102.55 480.00C102.05 482.87 101.55 485.92 100.40 488.61C99.25 491.31 97.60 493.71 95.66 496.15C93.72 498.59 91.28 501.07 88.77 503.26C86.25 505.45 83.28 508.43 80.58 509.29C77.89 510.15 75.20 507.03 72.61 508.43C70.03 509.83 67.59 514.53 65.08 517.69C62.56 520.85 58.97 525.91 57.54 527.38C56.10 528.86 55.38 528.50 56.46 526.52C57.54 524.55 61.20 518.70 64.00 515.54C66.80 512.38 71.07 510.33 73.26 507.57C75.45 504.80 75.77 502.04 77.14 498.95C78.50 495.87 79.94 492.20 81.44 489.05C82.95 485.89 84.32 483.01 86.18 480.00C88.05 476.98 90.49 473.75 92.64 470.95C94.80 468.15 97.53 464.85 99.11 463.20C100.68 461.55 101.40 459.68 102.12 461.05Z" fill="#d2c03a" filter="url(#gr)"/>
<path d="M100.83 467.08C101.47 468.33 101.40 476.23 100.83 480.00C100.25 483.77 99.11 486.75 97.38 489.69C95.66 492.63 92.93 495.33 90.49 497.66C88.05 499.99 83.74 504.48 82.74 503.69C81.73 502.90 83.17 496.51 84.46 492.92C85.75 489.33 88.41 485.56 90.49 482.15C92.57 478.74 95.23 474.97 96.95 472.46C98.67 469.95 100.18 465.82 100.83 467.08Z" fill="#e0cc30" filter="url(#gr2)" opacity="0.7"/>
<ellipse cx="94.8" cy="484.3" rx="2.6" ry="4.5" transform="rotate(25 94.8 484.3)" fill="#6a6038" filter="url(#b05)" opacity="0.85"/>
<ellipse cx="88.8" cy="496.2" rx="3" ry="2.4" transform="rotate(25 88.8 496.2)" fill="#6a6038" filter="url(#b05)" opacity="0.85"/>
<ellipse cx="97.8" cy="472.5" rx="1.8" ry="3.2" transform="rotate(25 97.8 472.5)" fill="#6a6038" filter="url(#b05)" opacity="0.85"/>
<ellipse cx="84.0" cy="503.3" rx="2.6" ry="2" transform="rotate(25 84.0 503.3)" fill="#6a6038" filter="url(#b05)" opacity="0.85"/>
<path d="M121.07 459.32C123.44 459.11 126.28 459.97 127.97 462.34C129.65 464.71 130.77 469.80 131.20 473.54C131.63 477.27 131.12 481.08 130.55 484.74C129.98 488.40 128.90 491.92 127.75 495.51C126.60 499.10 124.81 503.83 123.66 506.28C122.51 508.72 121.61 509.72 120.86 510.15C120.10 510.58 119.71 509.65 119.14 508.86C118.56 508.07 118.06 507.71 117.41 505.41C116.77 503.12 115.94 498.59 115.26 495.08C114.58 491.56 113.86 487.90 113.32 484.31C112.78 480.72 111.96 476.98 112.03 473.54C112.10 470.09 112.24 466.00 113.75 463.63C115.26 461.26 118.70 459.54 121.07 459.32Z" fill="#86793c" filter="url(#b1)" opacity="0.95"/>
<path d="M121.07 459.32C123.44 459.11 126.28 459.97 127.97 462.34C129.65 464.71 130.77 469.80 131.20 473.54C131.63 477.27 131.12 481.08 130.55 484.74C129.98 488.40 128.90 491.92 127.75 495.51C126.60 499.10 124.81 503.83 123.66 506.28C122.51 508.72 121.61 509.72 120.86 510.15C120.10 510.58 119.71 509.65 119.14 508.86C118.56 508.07 118.06 507.71 117.41 505.41C116.77 503.12 115.94 498.59 115.26 495.08C114.58 491.56 113.86 487.90 113.32 484.31C112.78 480.72 111.96 476.98 112.03 473.54C112.10 470.09 112.24 466.00 113.75 463.63C115.26 461.26 118.70 459.54 121.07 459.32Z" fill="#dcd038" filter="url(#gr)"/>
<path d="M121.07 459.32C123.44 459.11 126.28 459.97 127.97 462.34C129.65 464.71 130.77 469.80 131.20 473.54C131.63 477.27 131.12 481.08 130.55 484.74C129.98 488.40 128.90 491.92 127.75 495.51C126.60 499.10 124.81 503.83 123.66 506.28C122.51 508.72 121.61 509.72 120.86 510.15C120.10 510.58 119.71 509.65 119.14 508.86C118.56 508.07 118.06 507.71 117.41 505.41C116.77 503.12 115.94 498.59 115.26 495.08C114.58 491.56 113.86 487.90 113.32 484.31C112.78 480.72 111.96 476.98 112.03 473.54C112.10 470.09 112.24 466.00 113.75 463.63C115.26 461.26 118.70 459.54 121.07 459.32Z" fill="#d4c832" filter="url(#gr2)" opacity="0.6"/>
<ellipse cx="120.2" cy="479.6" rx="3.4" ry="9" fill="#625c3e" filter="url(#b1)" opacity="0.95"/>
<ellipse cx="112.5" cy="456.7" rx="7" ry="2.2" fill="#908850" filter="url(#grs)" opacity="0.35"/>
<ellipse cx="33.2" cy="535.6" rx="17" ry="16.5" fill="#70693e" filter="url(#b2)" opacity="0.95"/>
<ellipse cx="33.2" cy="535.6" rx="13" ry="12.5" fill="none" stroke="#d6ca38" stroke-width="6.5" filter="url(#gr)"/>
<ellipse cx="33.2" cy="535.6" rx="13" ry="12.5" fill="none" stroke="#c4b834" stroke-width="5" filter="url(#gr2)" opacity="0.5"/>
<ellipse cx="32.2" cy="535.6" rx="7" ry="6.5" fill="#625c3c" filter="url(#b1)" opacity="0.9"/>
<ellipse cx="129.0" cy="554.5" rx="7" ry="8" fill="#80643c" filter="url(#b1)" opacity="0.9"/>
<ellipse cx="129.0" cy="554.5" rx="6.5" ry="7.5" fill="#c48a30" filter="url(#gr2)"/>
<path d="M75.84 521.35C77.71 521.14 80.51 521.71 82.74 523.08C84.96 524.44 87.40 527.03 89.20 529.54C90.99 532.05 92.61 535.28 93.51 538.15C94.40 541.02 94.83 544.43 94.58 546.77C94.33 549.10 93.15 550.43 92.00 552.15C90.85 553.88 89.38 555.99 87.69 557.11C86.00 558.22 83.92 559.04 81.88 558.83C79.83 558.61 77.28 557.47 75.41 555.81C73.55 554.16 71.86 551.51 70.68 548.92C69.49 546.34 68.59 543.36 68.31 540.31C68.02 537.26 68.41 533.27 68.95 530.61C69.49 527.96 70.39 525.91 71.54 524.37C72.69 522.83 73.98 521.57 75.84 521.35Z" fill="#a0903c"/>
<path d="M75.84 521.35C77.71 521.14 80.51 521.71 82.74 523.08C84.96 524.44 87.40 527.03 89.20 529.54C90.99 532.05 92.61 535.28 93.51 538.15C94.40 541.02 94.83 544.43 94.58 546.77C94.33 549.10 93.15 550.43 92.00 552.15C90.85 553.88 89.38 555.99 87.69 557.11C86.00 558.22 83.92 559.04 81.88 558.83C79.83 558.61 77.28 557.47 75.41 555.81C73.55 554.16 71.86 551.51 70.68 548.92C69.49 546.34 68.59 543.36 68.31 540.31C68.02 537.26 68.41 533.27 68.95 530.61C69.49 527.96 70.39 525.91 71.54 524.37C72.69 522.83 73.98 521.57 75.84 521.35Z" fill="#e2d23c" filter="url(#gr)"/>
<path d="M75.84 521.35C77.71 521.14 80.51 521.71 82.74 523.08C84.96 524.44 87.40 527.03 89.20 529.54C90.99 532.05 92.61 535.28 93.51 538.15C94.40 541.02 94.83 544.43 94.58 546.77C94.33 549.10 93.15 550.43 92.00 552.15C90.85 553.88 89.38 555.99 87.69 557.11C86.00 558.22 83.92 559.04 81.88 558.83C79.83 558.61 77.28 557.47 75.41 555.81C73.55 554.16 71.86 551.51 70.68 548.92C69.49 546.34 68.59 543.36 68.31 540.31C68.02 537.26 68.41 533.27 68.95 530.61C69.49 527.96 70.39 525.91 71.54 524.37C72.69 522.83 73.98 521.57 75.84 521.35Z" fill="#d4c434" filter="url(#gr2)" opacity="0.6"/>
<path d="M78.64 527.81C79.97 527.81 81.77 529.72 83.38 531.26C85.00 532.80 87.04 535.03 88.34 537.08C89.63 539.12 90.60 541.49 91.14 543.54C91.67 545.58 91.89 547.92 91.57 549.35C91.24 550.79 90.17 551.65 89.20 552.15C88.23 552.66 87.33 552.83 85.75 552.37C84.17 551.90 81.52 550.82 79.72 549.35C77.93 547.88 75.99 545.58 74.98 543.54C73.98 541.49 73.62 539.12 73.69 537.08C73.76 535.03 74.59 532.80 75.41 531.26C76.24 529.72 77.32 527.81 78.64 527.81Z" fill="#806a3c"/>
<path d="M78.64 527.81C79.97 527.81 81.77 529.72 83.38 531.26C85.00 532.80 87.04 535.03 88.34 537.08C89.63 539.12 90.60 541.49 91.14 543.54C91.67 545.58 91.89 547.92 91.57 549.35C91.24 550.79 90.17 551.65 89.20 552.15C88.23 552.66 87.33 552.83 85.75 552.37C84.17 551.90 81.52 550.82 79.72 549.35C77.93 547.88 75.99 545.58 74.98 543.54C73.98 541.49 73.62 539.12 73.69 537.08C73.76 535.03 74.59 532.80 75.41 531.26C76.24 529.72 77.32 527.81 78.64 527.81Z" fill="#ac8e38" filter="url(#gr2)" opacity="0.85"/>
<path d="M75.84 521.35C77.71 521.14 80.51 521.71 82.74 523.08C84.96 524.44 87.40 527.03 89.20 529.54C90.99 532.05 92.61 535.28 93.51 538.15C94.40 541.02 94.83 544.43 94.58 546.77C94.33 549.10 93.15 550.43 92.00 552.15C90.85 553.88 89.38 555.99 87.69 557.11C86.00 558.22 83.92 559.04 81.88 558.83C79.83 558.61 77.28 557.47 75.41 555.81C73.55 554.16 71.86 551.51 70.68 548.92C69.49 546.34 68.59 543.36 68.31 540.31C68.02 537.26 68.41 533.27 68.95 530.61C69.49 527.96 70.39 525.91 71.54 524.37C72.69 522.83 73.98 521.57 75.84 521.35Z" fill="none" stroke="#fffbe8" stroke-width="1.25"/>
<path d="M78.64 527.81C79.97 527.81 81.77 529.72 83.38 531.26C85.00 532.80 87.04 535.03 88.34 537.08C89.63 539.12 90.60 541.49 91.14 543.54C91.67 545.58 91.89 547.92 91.57 549.35C91.24 550.79 90.17 551.65 89.20 552.15C88.23 552.66 87.33 552.83 85.75 552.37C84.17 551.90 81.52 550.82 79.72 549.35C77.93 547.88 75.99 545.58 74.98 543.54C73.98 541.49 73.62 539.12 73.69 537.08C73.76 535.03 74.59 532.80 75.41 531.26C76.24 529.72 77.32 527.81 78.64 527.81Z" fill="none" stroke="#fffbe8" stroke-width="1.1"/>
</g>
<rect x="337.2" y="328.0" width="180.40000000000003" height="215.10000000000002" fill="#fff" stroke="#3a3a3a" stroke-width="1"/>
<line x1="335.4" y1="543.10" x2="337.2" y2="543.10" stroke="#333" stroke-width="0.8"/>
<text transform="translate(334.60,546.00) scale(0.78,1)" font-size="8.2" text-anchor="end" font-weight="normal" font-style="normal" fill="#222"  stroke="#222" stroke-width="0.12">0</text>
<line x1="335.4" y1="489.32" x2="337.2" y2="489.32" stroke="#333" stroke-width="0.8"/>
<text transform="translate(334.60,492.22) scale(0.78,1)" font-size="8.2" text-anchor="end" font-weight="normal" font-style="normal" fill="#222"  stroke="#222" stroke-width="0.12">100</text>
<line x1="335.4" y1="435.54" x2="337.2" y2="435.54" stroke="#333" stroke-width="0.8"/>
<text transform="translate(334.60,438.44) scale(0.78,1)" font-size="8.2" text-anchor="end" font-weight="normal" font-style="normal" fill="#222"  stroke="#222" stroke-width="0.12">200</text>
<line x1="335.4" y1="381.76" x2="337.2" y2="381.76" stroke="#333" stroke-width="0.8"/>
<text transform="translate(334.60,384.66) scale(0.78,1)" font-size="8.2" text-anchor="end" font-weight="normal" font-style="normal" fill="#222"  stroke="#222" stroke-width="0.12">300</text>
<line x1="335.4" y1="327.98" x2="337.2" y2="327.98" stroke="#333" stroke-width="0.8"/>
<text transform="translate(334.60,330.88) scale(0.78,1)" font-size="8.2" text-anchor="end" font-weight="normal" font-style="normal" fill="#222"  stroke="#222" stroke-width="0.12">400</text>
<path d="M398.8 406.0V395.7M396.9 395.7H400.6" stroke="#222" stroke-width="0.8" fill="none"/>
<rect x="380.3" y="406.0" width="36.89999999999998" height="137.1" fill="#ff0d0d" stroke="#3a1a10" stroke-width="0.8"/>
<line x1="398.8" y1="543.1" x2="398.8" y2="546.1" stroke="#222" stroke-width="0.8"/>
<path d="M460.1 356.5V343.6M458.3 343.6H461.9" stroke="#222" stroke-width="0.8" fill="none"/>
<rect x="441.6" y="356.5" width="37.0" height="186.6" fill="#079a3b" stroke="#3a1a10" stroke-width="0.8"/>
<line x1="460.1" y1="543.1" x2="460.1" y2="546.1" stroke="#222" stroke-width="0.8"/>
<text transform="translate(398.60,563.60)" font-size="11.8" text-anchor="middle" font-weight="normal" font-style="normal" fill="#111" >mt-GFP</text>
<text transform="translate(463.00,563.60)" font-size="11.8" text-anchor="middle" font-weight="normal" font-style="normal" fill="#111" >p13-GFP</text>
<text transform="translate(378.00,350.80)" font-size="12.2" text-anchor="start" font-weight="normal" font-style="normal" fill="#111" word-spacing="-1.3"><tspan font-style="italic">P</tspan> &lt; .01</text>
<text transform="translate(318.30,437.30) rotate(-90)" font-size="12.0" text-anchor="middle" font-weight="normal" font-style="normal" fill="#111" >MTR mean fluorescence intensity</text>
</svg>
</body></html>
